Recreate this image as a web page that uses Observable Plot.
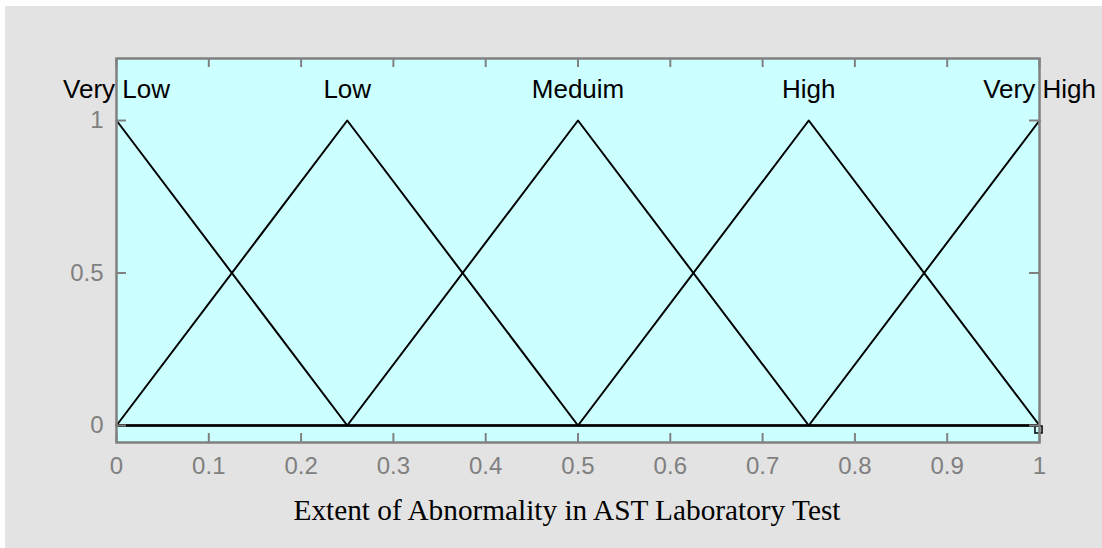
<!DOCTYPE html>
<html><head><meta charset="utf-8">
<script src="https://cdn.jsdelivr.net/npm/d3@7"></script>
<script src="https://cdn.jsdelivr.net/npm/@observablehq/plot@0.6"></script>
<style>
html,body{margin:0;background:#e3e3e3;overflow:hidden}
#wrap{position:relative;width:1102px;height:548px}
.wb{position:absolute;background:#fff}
</style>
</head><body><div id="wrap"><div id="chart"></div>
<div class="wb" style="left:0;top:0;width:5px;height:548px"></div>
<div class="wb" style="left:0;top:0;width:1102px;height:6px"></div></div>
<script>
// Membership functions (triangular): left foot, peak, right foot
const mfNames = ["Very Low", "Low", "Meduim", "High", "Very High"];
const mfLeft  = [-0.25, 0, 0.25, 0.5, 0.75];
const mfPeak  = [0, 0.25, 0.5, 0.75, 1];
const mfRight = [0.25, 0.5, 0.75, 1, 1.25];
const xTicks = [0, 0.1, 0.2, 0.3, 0.4, 0.5, 0.6, 0.7, 0.8, 0.9, 1];
const xTickLabels = ["0", "0.1", "0.2", "0.3", "0.4", "0.5", "0.6", "0.7", "0.8", "0.9", "1"];
const yTicks = [0, 0.5, 1];
const yTickLabels = ["0", "0.5", "1"];
const xTitle = "Extent of Abnormality in AST Laboratory Test";

function trimf(x, a, b, c) {
  if (x <= a || x >= c) return (x === b) ? 1 : 0;
  return x <= b ? (b === a ? 1 : (x - a) / (b - a)) : (c === b ? 1 : (c - x) / (c - b));
}
const lineData = [];
mfNames.forEach((name, i) => {
  const xs = [0, mfLeft[i], mfPeak[i], mfRight[i], 1].filter(x => x >= 0 && x <= 1).sort((a, b) => a - b);
  xs.forEach(x => lineData.push({name, x, y: x === mfPeak[i] ? 1 : trimf(x, mfLeft[i], mfPeak[i], mfRight[i])}));
});
const labels = mfNames.map((name, i) => ({name, x: mfPeak[i]}));

const W = 1102, H = 548;
const mL = 116, mR = 63, mT = 58, mB = 106;
const pw = W - mL - mR, ph = H - mT - mB;
const grey = "#808080";

const chart = Plot.plot({
  width: W, height: H,
  marginLeft: mL, marginRight: mR, marginTop: mT, marginBottom: mB,
  style: {background: "#e3e3e3", fontFamily: "'Liberation Sans', Arial, sans-serif"},
  x: {domain: [0, 1]},
  y: {domain: [-0.0557, 1.2033]},
  marks: [
    Plot.frame({fill: "#ccffff", stroke: null}),
    Plot.line(lineData, {x: "x", y: "y", z: "name", stroke: "#000", strokeWidth: 2}),
    Plot.dot([{x: 1, y: 0}], {x: "x", y: "y", symbol: "square", r: 4, stroke: "#000", strokeWidth: 1.5, fill: "none", dx: -1, dy: 4}),
    // inward ticks
    Plot.ruleX(xTicks, {x: d => d, insetTop: ph - 9, stroke: grey, strokeWidth: 2}),
    Plot.ruleX(xTicks, {x: d => d, insetBottom: ph - 9, stroke: grey, strokeWidth: 2}),
    Plot.ruleY(yTicks, {y: d => d, insetRight: pw - 10, stroke: grey, strokeWidth: 2}),
    Plot.ruleY(yTicks, {y: d => d, insetLeft: pw - 10, stroke: grey, strokeWidth: 2}),
    Plot.frame({stroke: grey, strokeWidth: 2.5}),
    Plot.axisX({ticks: xTicks, tickSize: 0, tickPadding: 14, tickFormat: d => xTickLabels[xTicks.indexOf(d)], fontSize: 24, color: grey, label: null}),
    Plot.axisY({ticks: yTicks, tickSize: 0, tickPadding: 13, tickFormat: d => yTickLabels[yTicks.indexOf(d)], fontSize: 24, color: grey, label: null}),
    Plot.text(labels, {x: "x", text: "name", frameAnchor: "top", dy: 21, fontSize: 26, fill: "#000"}),
    Plot.text([xTitle], {text: d => d, frameAnchor: "bottom", dx: -11, dy: 77, fontSize: 29.3, fontFamily: "'Liberation Serif', 'Times New Roman', serif", fill: "#000"})
  ]
});
document.getElementById("chart").appendChild(chart);
</script>
</body></html>
